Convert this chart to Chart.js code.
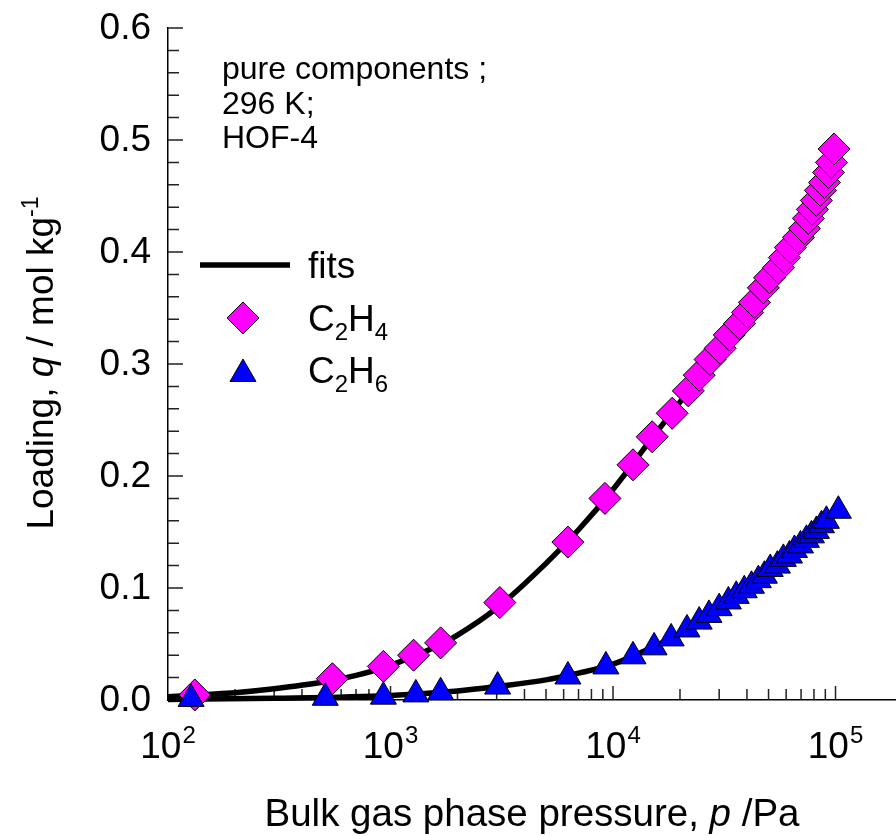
<!DOCTYPE html>
<html>
<head>
<meta charset="utf-8">
<script src="https://cdn.jsdelivr.net/npm/chart.js@4.4.0/dist/chart.umd.min.js"></script>
<style>
  html, body { margin: 0; padding: 0; background: #fff; overflow: hidden; }
  canvas { display: block; }
</style>
</head>
<body>
<canvas id="chart" width="896" height="836"></canvas>
<script>
// data (pressure in Pa, loading in mol/kg)
const c2h4Pressure = [132, 548, 929, 1270, 1680, 3100, 6270, 9200, 12300, 15000, 18450, 21800, 24400, 27300,
  30300, 33300, 37000, 40200, 43200, 47400, 50500, 55400, 58900, 62700, 68100, 72500, 75500, 78700,
  82000, 85500, 89200, 93000, 95900, 98500];
const c2h4Loading = [0.0045, 0.019, 0.030, 0.040, 0.051, 0.087, 0.141, 0.180, 0.210, 0.235, 0.256, 0.276, 0.290, 0.304,
  0.314, 0.326, 0.336, 0.346, 0.355, 0.368, 0.377, 0.386, 0.395, 0.404, 0.413, 0.421, 0.430, 0.438,
  0.446, 0.455, 0.462, 0.471, 0.480, 0.492];

const c2h6Pressure = [127, 509, 929, 1300, 1680, 3030, 6270, 9290, 12300, 15300, 18250, 21500, 24400, 27000,
  30000, 33000, 35800, 38900, 41900, 45000, 47900, 50900, 54800, 58300, 62100, 65400, 69600, 74000,
  78000, 82100, 86500, 91000, 103000];
const c2h6Loading = [0.001, 0.002, 0.003, 0.005, 0.007, 0.012, 0.021, 0.030, 0.039, 0.047, 0.055, 0.063, 0.070, 0.076,
  0.082, 0.088, 0.093, 0.098, 0.102, 0.107, 0.111, 0.117, 0.120, 0.126, 0.129, 0.134, 0.138, 0.143,
  0.147, 0.151, 0.156, 0.160, 0.169];

// fitted curves, sampled from the drawn lines
const fitPressureC2H4 = [100, 150, 200, 300, 500, 700, 1000, 1500, 2000, 3000, 5000, 7000, 10000, 15000,
  20000, 30000, 50000, 70000, 98500];
const fitLoadingC2H4 = [0.003, 0.005, 0.0065, 0.010, 0.016, 0.022, 0.031, 0.045, 0.058, 0.082, 0.122, 0.152, 0.188, 0.234,
  0.266, 0.313, 0.376, 0.417, 0.490];
const fitPressureC2H6 = [100, 300, 1000, 2000, 3000, 5000, 7000, 10000, 15000, 20000, 30000, 50000, 70000, 100000, 103000];
const fitLoadingC2H6 = [0.0005, 0.0015, 0.004, 0.008, 0.012, 0.018, 0.024, 0.032, 0.047, 0.059, 0.082, 0.115, 0.139, 0.166, 0.169];

const yTickValues = [0, 0.1, 0.2, 0.3, 0.4, 0.5, 0.6];
const xTickExponents = [2, 3, 4, 5];
const noteLines = ['pure components ;', '296 K;', 'HOF-4'];

const FONT = '"Liberation Sans", Arial, Helvetica, sans-serif';

function toPoints(xs, ys) {
  return xs.map((x, i) => ({ x: x, y: ys[i] }));
}

// draw a run of text pieces (for italics, sub- and superscripts)
function drawPieces(c, pieces, x, y) {
  let cx = x;
  pieces.forEach(p => {
    c.font = p.font;
    c.fillText(p.text, cx, y + (p.dy || 0));
    cx += c.measureText(p.text).width + (p.gap || 0);
  });
  return cx;
}
function piecesWidth(c, pieces) {
  let w = 0;
  pieces.forEach(p => {
    c.font = p.font;
    w += c.measureText(p.text).width + (p.gap || 0);
  });
  return w;
}

function diamond(c, x, y, r) {
  c.beginPath();
  c.moveTo(x - r, y); c.lineTo(x, y - r); c.lineTo(x + r, y); c.lineTo(x, y + r);
  c.closePath();
}
function triangle(c, x, y, r) {
  const s = Math.sin(Math.PI / 3) * r;
  c.beginPath();
  c.moveTo(x, y - r); c.lineTo(x + s, y + r / 2); c.lineTo(x - s, y + r / 2);
  c.closePath();
}

const decor = {
  id: 'decor',
  beforeDatasetsDraw(chart) {
    const c = chart.ctx;
    const xs = chart.scales.x, ys = chart.scales.y;
    const left = chart.chartArea.left, bottom = chart.chartArea.bottom;
    c.save();
    c.strokeStyle = '#222';
    c.lineWidth = 1.5;
    c.beginPath();
    // y ticks, inside, minor every 0.02
    for (let i = 1; i <= 30; i++) {
      const py = ys.getPixelForValue(i * 0.02);
      const len = i % 5 === 0 ? 15 : 11;
      c.moveTo(left, py); c.lineTo(left + len, py);
    }
    // x ticks, inside, log minors
    for (let e = 2; e <= 5; e++) {
      for (let m = 1; m <= 9; m++) {
        const v = m * Math.pow(10, e);
        if (v <= xs.min || v > xs.max) continue;
        const px = xs.getPixelForValue(v);
        const len = m === 1 ? 14 : 11;
        c.moveTo(px, bottom); c.lineTo(px, bottom - len);
      }
    }
    c.stroke();
    c.restore();
  },
  afterDraw(chart) {
    const c = chart.ctx;
    const xs = chart.scales.x, ys = chart.scales.y;
    c.save();
    c.fillStyle = '#000';

    // y tick labels
    c.font = '37px ' + FONT;
    c.textAlign = 'right';
    c.textBaseline = 'middle';
    yTickValues.forEach(v => {
      c.fillText(v.toFixed(1), 151, ys.getPixelForValue(v) + 1);
    });

    // x tick labels 10^n
    c.textAlign = 'left';
    c.textBaseline = 'alphabetic';
    xTickExponents.forEach(e => {
      const pieces = [
        { text: '10', font: '37px ' + FONT, gap: 1 },
        { text: String(e), font: '24px ' + FONT, dy: -15 }
      ];
      const w = piecesWidth(c, pieces);
      drawPieces(c, pieces, xs.getPixelForValue(Math.pow(10, e)) - w / 2, 758);
    });

    // x title
    const xTitle = [
      { text: 'Bulk gas phase pressure, ', font: '38.5px ' + FONT },
      { text: 'p', font: 'italic 38.5px ' + FONT },
      { text: ' /Pa', font: '38.5px ' + FONT }
    ];
    drawPieces(c, xTitle, 532 - piecesWidth(c, xTitle) / 2, 826);

    // y title (rotated)
    const yTitle = [
      { text: 'Loading, ', font: '37px ' + FONT },
      { text: 'q', font: 'italic 37px ' + FONT },
      { text: ' / mol kg', font: '37px ' + FONT },
      { text: '-1', font: '23px ' + FONT, dy: -15 }
    ];
    c.save();
    c.translate(53, 363);
    c.rotate(-Math.PI / 2);
    drawPieces(c, yTitle, -piecesWidth(c, yTitle) / 2, 0);
    c.restore();

    // note in the top left corner
    c.font = '32px ' + FONT;
    noteLines.forEach((t, i) => c.fillText(t, 222, 79 + i * 34.5));

    // legend
    c.strokeStyle = '#000';
    c.lineWidth = 5.5;
    c.beginPath(); c.moveTo(200, 265); c.lineTo(290, 265); c.stroke();
    c.lineWidth = 1;
    diamond(c, 243, 318, 16);
    c.fillStyle = '#ff00ff'; c.fill(); c.stroke();
    triangle(c, 243, 374, 15);
    c.fillStyle = '#0000ff'; c.fill(); c.stroke();

    c.fillStyle = '#000';
    c.font = '37px ' + FONT;
    c.fillText('fits', 308, 278);
    const big = '37px ' + FONT, small = '24px ' + FONT;
    drawPieces(c, [
      { text: 'C', font: big }, { text: '2', font: small, dy: 9 },
      { text: 'H', font: big }, { text: '4', font: small, dy: 9 }
    ], 308, 331);
    drawPieces(c, [
      { text: 'C', font: big }, { text: '2', font: small, dy: 9 },
      { text: 'H', font: big }, { text: '6', font: small, dy: 9 }
    ], 308, 383);
    c.restore();
  }
};

const chart = new Chart(document.getElementById('chart').getContext('2d'), {
  type: 'line',
  data: {
    datasets: [
      {
        label: 'C2H6',
        data: toPoints(c2h6Pressure, c2h6Loading),
        showLine: false,
        pointStyle: 'triangle',
        pointRadius: 15,
        pointBackgroundColor: '#0000ff',
        pointBorderColor: '#000',
        pointBorderWidth: 1,
        clip: false,
        order: 0
      },
      {
        label: 'C2H4',
        data: toPoints(c2h4Pressure, c2h4Loading),
        showLine: false,
        pointStyle: 'rectRot',
        pointRadius: 16,
        pointBackgroundColor: '#ff00ff',
        pointBorderColor: '#000',
        pointBorderWidth: 1,
        clip: false,
        order: 1
      },
      {
        label: 'fits C2H4',
        data: toPoints(fitPressureC2H4, fitLoadingC2H4),
        borderColor: '#000',
        borderWidth: 5.5,
        pointRadius: 0,
        cubicInterpolationMode: 'monotone',
        clip: false,
        order: 2
      },
      {
        label: 'fits C2H6',
        data: toPoints(fitPressureC2H6, fitLoadingC2H6),
        borderColor: '#000',
        borderWidth: 5.5,
        pointRadius: 0,
        cubicInterpolationMode: 'monotone',
        clip: false,
        order: 2
      }
    ]
  },
  options: {
    responsive: false,
    animation: false,
    devicePixelRatio: 1,
    layout: { autoPadding: false, padding: { top: 28, right: 0, bottom: 0, left: 0 } },
    plugins: {
      legend: { display: false },
      tooltip: { enabled: false }
    },
    scales: {
      x: {
        type: 'logarithmic',
        min: 100,
        max: 187000,
        grid: { display: false },
        border: { display: true, color: '#000', width: 1.5 },
        ticks: { display: false },
        afterFit(scale) { scale.height = 136; }
      },
      y: {
        type: 'linear',
        min: 0,
        max: 0.6,
        grid: { display: false },
        border: { display: true, color: '#000', width: 1.5 },
        ticks: { display: false },
        afterFit(scale) { scale.width = 168; }
      }
    }
  },
  plugins: [decor]
});
</script>
</body>
</html>
